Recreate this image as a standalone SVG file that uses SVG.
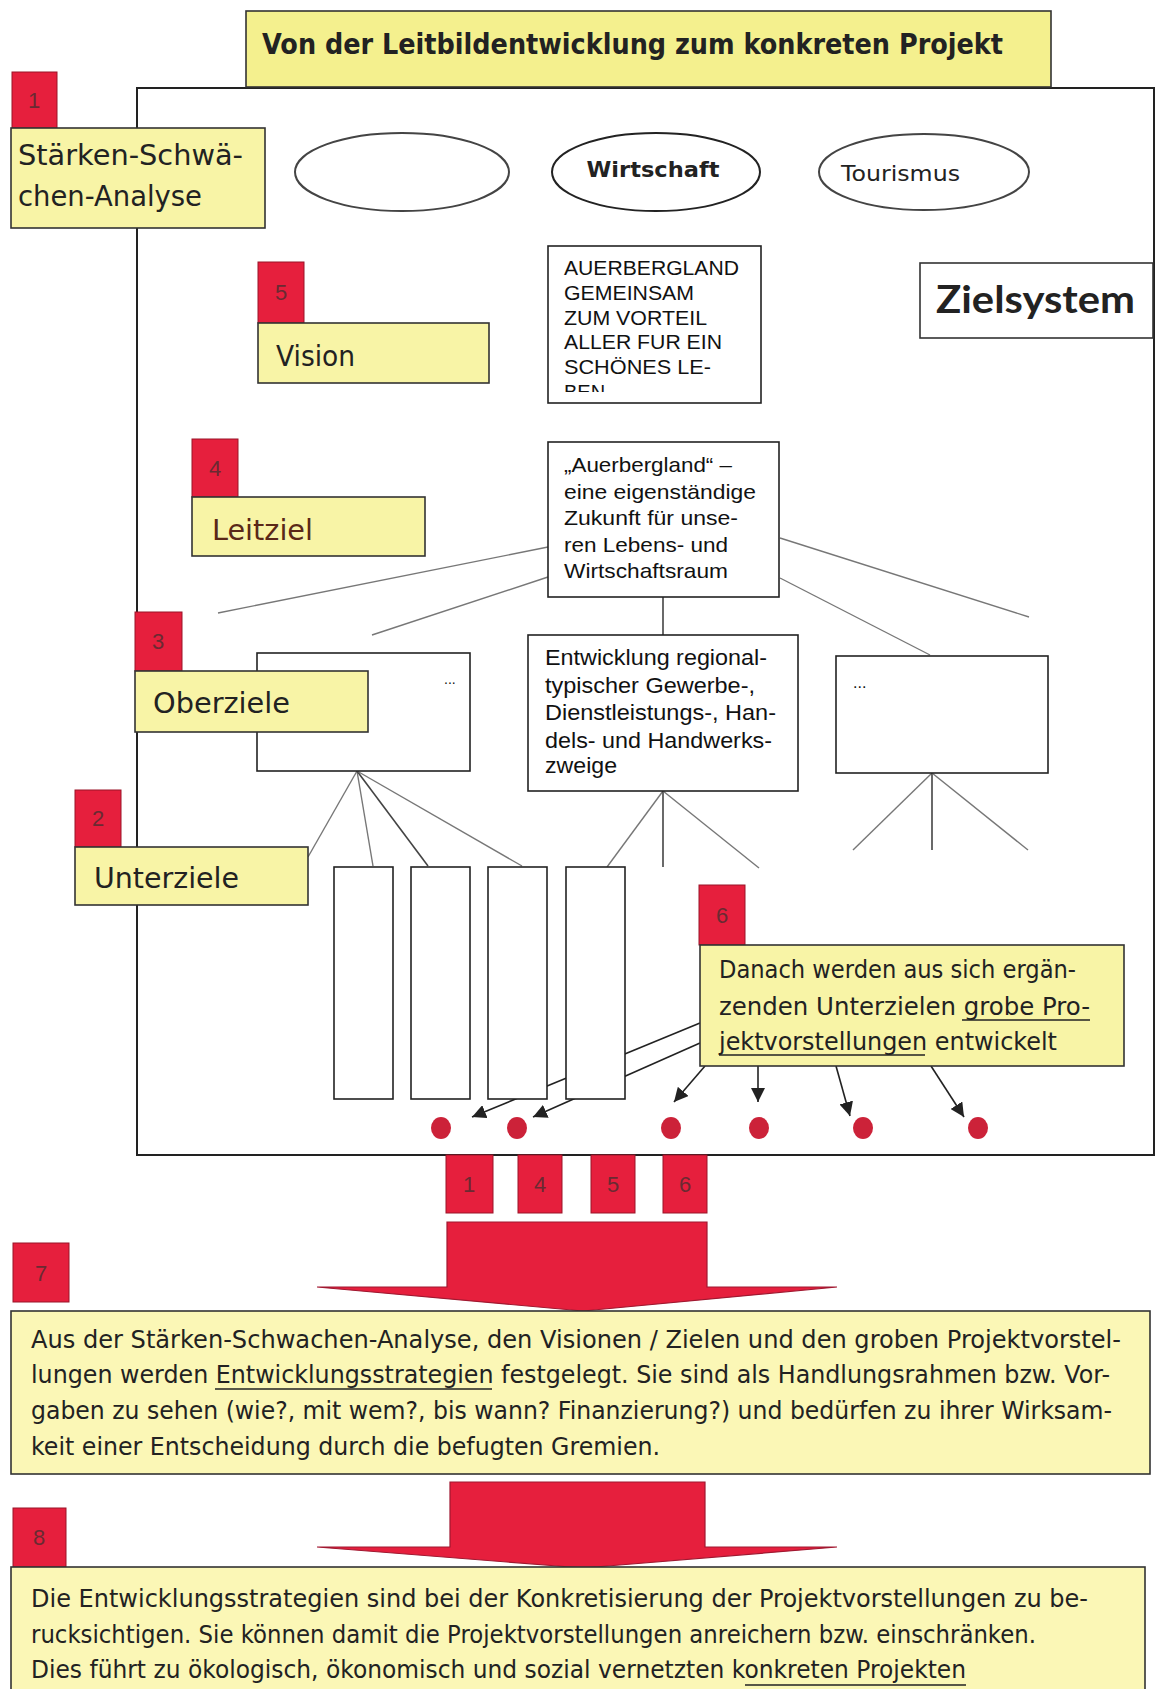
<svg xmlns="http://www.w3.org/2000/svg" width="1156" height="1689" viewBox="0 0 1156 1689">
<style>
.lbl{fill:#f8f4a6;stroke:#333;stroke-width:1.6}
.tbox{fill:#fbf7b6;stroke:#333;stroke-width:1.6}
.num{fill:#e61f3d;stroke:#9a1428;stroke-width:1}
.numt{font-family:"Liberation Sans",Arial,sans-serif;font-size:22px;fill:#6a2a32;text-anchor:middle}
.box{fill:#fff;stroke:#222;stroke-width:1.6}
.hand{font-family:"DejaVu Sans",sans-serif;fill:#222}
.sans{font-family:"Liberation Sans",Arial,sans-serif;fill:#111}
.ln{stroke:#444;stroke-width:1.6;fill:none}
.lt{stroke:#777;stroke-width:1.4;fill:none}
.ar{stroke:#222;stroke-width:1.6;fill:none;marker-end:url(#ah)}
.dot{fill:#cc2239}
.ul{stroke:#222;stroke-width:1.6}
.big{fill:#e61f3d;stroke:#a01830;stroke-width:1.2}
</style>
<defs>
<marker id="ah" viewBox="0 0 10 10" refX="10" refY="5" markerWidth="14" markerHeight="14" markerUnits="userSpaceOnUse" orient="auto">
<path d="M0,0 L10,5 L0,10 z" fill="#222"/>
</marker>
<clipPath id="clipA"><rect x="549" y="247" width="211" height="145"/></clipPath>
</defs>
<rect width="1156" height="1689" fill="#fff"/>

<g id="frame">
<rect x="137" y="88" width="1017" height="1067" fill="#fff" stroke="#222" stroke-width="2"/>
</g>

<g id="title">
<rect x="246" y="11" width="805" height="76" fill="#f4f08e" stroke="#333" stroke-width="1.6"/>
<text class="hand" x="262" y="54" font-size="28" font-weight="bold" textLength="741" lengthAdjust="spacingAndGlyphs">Von der Leitbildentwicklung zum konkreten Projekt</text>
</g>

<g id="connectors">
<line class="lt" x1="548" y1="547" x2="218" y2="613"/>
<line class="lt" x1="548" y1="577" x2="372" y2="635"/>
<line class="lt" x1="780" y1="538" x2="1029" y2="617"/>
<line class="lt" x1="780" y1="578" x2="930" y2="655"/>
<line class="ln" x1="663" y1="597" x2="663" y2="635"/>
<line class="lt" x1="357" y1="771" x2="308" y2="857"/>
<line class="lt" x1="357" y1="771" x2="373" y2="866"/>
<line class="ln" x1="357" y1="771" x2="428" y2="866"/>
<line class="lt" x1="357" y1="771" x2="522" y2="866"/>
<line class="lt" x1="663" y1="791" x2="607" y2="867"/>
<line class="ln" x1="663" y1="791" x2="663" y2="867"/>
<line class="lt" x1="663" y1="791" x2="759" y2="868"/>
<line class="lt" x1="932" y1="773" x2="853" y2="850"/>
<line class="ln" x1="932" y1="773" x2="932" y2="850"/>
<line class="lt" x1="932" y1="773" x2="1028" y2="850"/>
<line class="ar" x1="700" y1="1023" x2="472" y2="1117"/>
<line class="ar" x1="700" y1="1043" x2="533" y2="1117"/>
<line class="ar" x1="705" y1="1066" x2="674" y2="1102"/>
<line class="ar" x1="758" y1="1066" x2="758" y2="1102"/>
<line class="ar" x1="836" y1="1066" x2="850" y2="1116"/>
<line class="ar" x1="931" y1="1066" x2="964" y2="1117"/>
</g>

<g id="ellipse-empty"><ellipse cx="402" cy="172" rx="107" ry="39" fill="none" stroke="#444" stroke-width="2"/></g>
<g id="ellipse-wirtschaft"><ellipse cx="656" cy="172" rx="104" ry="39" fill="none" stroke="#222" stroke-width="2"/>
<text class="hand" x="653" y="177" font-size="22" font-weight="bold" text-anchor="middle" textLength="133" lengthAdjust="spacingAndGlyphs">Wirtschaft</text></g>
<g id="ellipse-tourismus"><ellipse cx="924" cy="172" rx="105" ry="38" fill="none" stroke="#444" stroke-width="2"/>
<text class="hand" x="841" y="181" font-size="22" textLength="119" lengthAdjust="spacingAndGlyphs">Tourismus</text></g>

<g id="vision-box">
<rect class="box" x="548" y="246" width="213" height="157"/>
<g clip-path="url(#clipA)" class="sans" font-size="20">
<text x="564" y="275" textLength="175" lengthAdjust="spacingAndGlyphs">AUERBERGLAND</text>
<text x="564" y="300" textLength="130" lengthAdjust="spacingAndGlyphs">GEMEINSAM</text>
<text x="564" y="325" textLength="143" lengthAdjust="spacingAndGlyphs">ZUM VORTEIL</text>
<text x="564" y="349" textLength="158" lengthAdjust="spacingAndGlyphs">ALLER FUR EIN</text>
<text x="564" y="374" textLength="147" lengthAdjust="spacingAndGlyphs">SCHÖNES LE-</text>
<text x="564" y="399">BEN</text>
</g>
</g>

<g id="zielsystem">
<rect x="920" y="263" width="233" height="75" fill="#fff" stroke="#333" stroke-width="1.6"/>
<text x="936" y="313" font-family="Lato,'Open Sans',sans-serif" font-weight="bold" font-size="38" fill="#222" textLength="199" lengthAdjust="spacingAndGlyphs">Zielsystem</text>
</g>

<g id="leitziel-box" class="sans" font-size="21">
<rect class="box" x="548" y="442" width="231" height="155"/>
<text x="564" y="472" textLength="168" lengthAdjust="spacingAndGlyphs">„Auerbergland“ –</text>
<text x="564" y="499" textLength="192" lengthAdjust="spacingAndGlyphs">eine eigenständige</text>
<text x="564" y="525" textLength="174" lengthAdjust="spacingAndGlyphs">Zukunft für unse-</text>
<text x="564" y="552" textLength="164" lengthAdjust="spacingAndGlyphs">ren Lebens- und</text>
<text x="564" y="578" textLength="164" lengthAdjust="spacingAndGlyphs">Wirtschaftsraum</text>
</g>

<g id="oberziel-left">
<rect class="box" x="257" y="653" width="213" height="118"/>
<text class="sans" x="444" y="684" font-size="14" fill="#888">...</text>
</g>
<g id="oberziel-mid" class="sans" font-size="22">
<rect class="box" x="528" y="635" width="270" height="156"/>
<text x="545" y="665" textLength="222" lengthAdjust="spacingAndGlyphs">Entwicklung regional-</text>
<text x="545" y="693" textLength="210" lengthAdjust="spacingAndGlyphs">typischer Gewerbe-,</text>
<text x="545" y="720" textLength="231" lengthAdjust="spacingAndGlyphs">Dienstleistungs-, Han-</text>
<text x="545" y="748" textLength="227" lengthAdjust="spacingAndGlyphs">dels- und Handwerks-</text>
<text x="545" y="773" textLength="72" lengthAdjust="spacingAndGlyphs">zweige</text>
</g>
<g id="oberziel-right">
<rect class="box" x="836" y="656" width="212" height="117"/>
<text class="sans" x="853" y="688" font-size="16" fill="#333">...</text>
</g>

<g id="unterziel-1"><rect class="box" x="334" y="867" width="59" height="232"/></g>
<g id="unterziel-2"><rect class="box" x="411" y="867" width="59" height="232"/></g>
<g id="unterziel-3"><rect class="box" x="488" y="867" width="59" height="232"/></g>
<g id="unterziel-4"><rect class="box" x="566" y="867" width="59" height="232"/></g>

<g id="dots">
<ellipse class="dot" cx="441" cy="1128" rx="10" ry="11"/>
<ellipse class="dot" cx="517" cy="1128" rx="10" ry="11"/>
<ellipse class="dot" cx="671" cy="1128" rx="10" ry="11"/>
<ellipse class="dot" cx="759" cy="1128" rx="10" ry="11"/>
<ellipse class="dot" cx="863" cy="1128" rx="10" ry="11"/>
<ellipse class="dot" cx="978" cy="1128" rx="10" ry="11"/>
</g>

<g id="step1">
<rect class="num" x="12" y="72" width="45" height="56"/>
<text class="numt" x="34" y="108">1</text>
<rect class="lbl" x="11" y="128" width="254" height="100"/>
<text class="hand" x="18" y="165" font-size="28" textLength="225" lengthAdjust="spacingAndGlyphs">Stärken-Schwä-</text>
<text class="hand" x="18" y="206" font-size="28" textLength="184" lengthAdjust="spacingAndGlyphs">chen-Analyse</text>
</g>

<g id="step5">
<rect class="num" x="258" y="262" width="46" height="61"/>
<text class="numt" x="281" y="300">5</text>
<rect class="lbl" x="258" y="323" width="231" height="60"/>
<text class="hand" x="276" y="366" font-size="29" textLength="79" lengthAdjust="spacingAndGlyphs">Vision</text>
</g>

<g id="step4">
<rect class="num" x="192" y="439" width="46" height="58"/>
<text class="numt" x="215" y="476">4</text>
<rect class="lbl" x="192" y="497" width="233" height="59"/>
<text class="hand" x="212" y="540" font-size="29" textLength="101" lengthAdjust="spacingAndGlyphs" style="fill:#5a2818">Leitziel</text>
</g>

<g id="step3">
<rect class="num" x="135" y="612" width="47" height="59"/>
<text class="numt" x="158" y="649">3</text>
<rect class="lbl" x="135" y="671" width="233" height="61"/>
<text class="hand" x="153" y="713" font-size="29" textLength="137" lengthAdjust="spacingAndGlyphs">Oberziele</text>
</g>

<g id="step2">
<rect class="num" x="75" y="790" width="46" height="57"/>
<text class="numt" x="98" y="826">2</text>
<rect class="lbl" x="75" y="847" width="233" height="58"/>
<text class="hand" x="94" y="888" font-size="29" textLength="145" lengthAdjust="spacingAndGlyphs">Unterziele</text>
</g>

<g id="step6">
<rect class="num" x="699" y="885" width="46" height="60"/>
<text class="numt" x="722" y="923">6</text>
<rect class="lbl" x="700" y="945" width="424" height="121"/>
<g class="hand" font-size="24">
<text x="719" y="978" textLength="357" lengthAdjust="spacingAndGlyphs">Danach werden aus sich ergän-</text>
<text x="719" y="1015" textLength="371" lengthAdjust="spacingAndGlyphs">zenden Unterzielen grobe Pro-</text>
<text x="719" y="1050" textLength="338" lengthAdjust="spacingAndGlyphs">jektvorstellungen entwickelt</text>
</g>
<line class="ul" x1="962" y1="1020" x2="1090" y2="1020"/>
<line class="ul" x1="719" y1="1055" x2="925" y2="1055"/>
</g>

<g id="inputs">
<rect class="num" x="446" y="1155" width="47" height="58"/><text class="numt" x="469" y="1192">1</text>
<rect class="num" x="518" y="1155" width="44" height="58"/><text class="numt" x="540" y="1192">4</text>
<rect class="num" x="591" y="1155" width="44" height="58"/><text class="numt" x="613" y="1192">5</text>
<rect class="num" x="663" y="1155" width="44" height="58"/><text class="numt" x="685" y="1192">6</text>
</g>

<g id="arrow1">
<polygon class="big" points="447,1222 707,1222 707,1287 837,1287 583,1311 317,1287 447,1287"/>
</g>

<g id="step7">
<rect class="num" x="13" y="1243" width="56" height="59"/>
<text class="numt" x="41" y="1281">7</text>
<rect class="tbox" x="11" y="1311" width="1139" height="163"/>
<g class="hand" font-size="24">
<text x="31" y="1348" textLength="1090" lengthAdjust="spacingAndGlyphs">Aus der Stärken-Schwachen-Analyse, den Visionen / Zielen und den groben Projektvorstel-</text>
<text x="31" y="1383" textLength="1079" lengthAdjust="spacingAndGlyphs">lungen werden Entwicklungsstrategien  festgelegt. Sie sind als Handlungsrahmen bzw. Vor-</text>
<text x="31" y="1419" textLength="1081" lengthAdjust="spacingAndGlyphs">gaben zu sehen (wie?, mit wem?, bis wann? Finanzierung?) und bedürfen zu ihrer Wirksam-</text>
<text x="31" y="1455" textLength="629" lengthAdjust="spacingAndGlyphs">keit einer Entscheidung durch die befugten Gremien.</text>
</g>
<line class="ul" x1="215" y1="1389" x2="492" y2="1389"/>
</g>

<g id="arrow2">
<polygon class="big" points="450,1482 705,1482 705,1547 837,1547 583,1568 317,1547 450,1547"/>
</g>

<g id="step8">
<rect class="num" x="13" y="1508" width="53" height="59"/>
<text class="numt" x="39" y="1545">8</text>
<rect class="tbox" x="11" y="1567" width="1134" height="130"/>
<g class="hand" font-size="24">
<text x="31" y="1607" textLength="1057" lengthAdjust="spacingAndGlyphs">Die Entwicklungsstrategien sind bei der Konkretisierung der Projektvorstellungen zu be-</text>
<text x="31" y="1643" textLength="1005" lengthAdjust="spacingAndGlyphs">rucksichtigen. Sie können damit die Projektvorstellungen anreichern bzw. einschränken.</text>
<text x="31" y="1678" textLength="935" lengthAdjust="spacingAndGlyphs">Dies führt zu ökologisch, ökonomisch und sozial vernetzten konkreten Projekten</text>
</g>
<line class="ul" x1="745" y1="1685" x2="966" y2="1685"/>
</g>
</svg>
